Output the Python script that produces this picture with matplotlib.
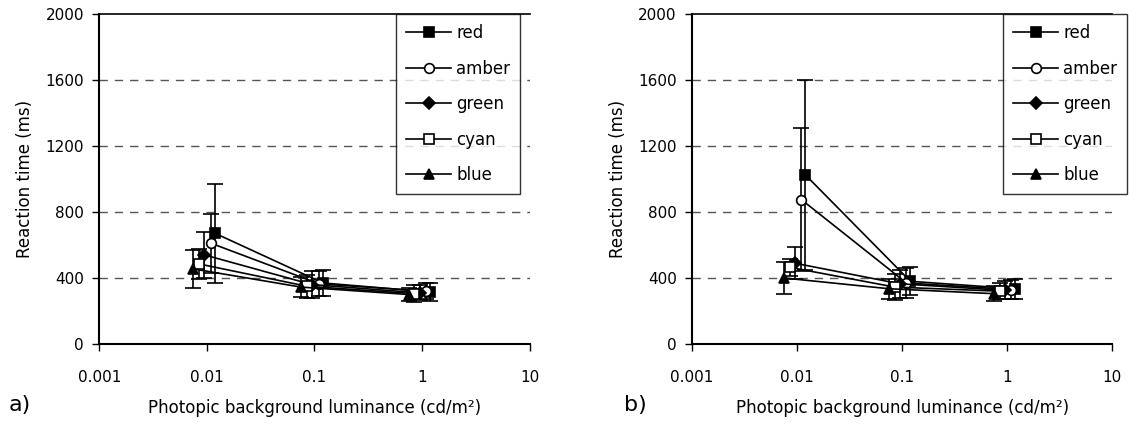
import numpy as np
from matplotlib import pyplot as plt
from matplotlib.lines import Line2D

series = ['red', 'amber', 'green', 'cyan', 'blue']
markers = ['s', 'o', 'D', 's', '^']
fills = ['black', 'white', 'black', 'white', 'black']
luminance = [0.01, 0.1, 1]
offsets = [1.2, 1.1, 0.95, 0.85, 0.75]

# panel a
rt_a = {
    'red':   [670, 370, 315],
    'amber': [610, 365, 320],
    'green': [540, 360, 310],
    'cyan':  [485, 350, 305],
    'blue':  [455, 345, 300],
}
err_a = {
    'red':   [300, 80, 55],
    'amber': [180, 75, 50],
    'green': [140, 80, 45],
    'cyan':  [90, 70, 50],
    'blue':  [115, 60, 40],
}
# panel b
rt_b = {
    'red':   [1025, 380, 335],
    'amber': [875, 370, 330],
    'green': [490, 365, 325],
    'cyan':  [465, 345, 320],
    'blue':  [400, 335, 305],
}
err_b = {
    'red':   [575, 85, 60],
    'amber': [435, 90, 55],
    'green': [95, 85, 55],
    'cyan':  [50, 80, 50],
    'blue':  [95, 60, 45],
}

plt.rcParams['font.family'] = 'DejaVu Sans'
fig = plt.figure(figsize=(11.29, 4.26), dpi=100)
ax_a = fig.add_axes([0.088, 0.1925, 0.381, 0.7745])
ax_b = fig.add_axes([0.613, 0.1925, 0.372, 0.7745])


def panel(ax, rt, err, legend_anchor, letter, letter_x):
    handles = []
    for name, m, fc, off in zip(series, markers, fills, offsets):
        x = np.array(luminance) * off
        ms = 6 if m == 'D' else 7
        ax.errorbar(x, rt[name], yerr=err[name], color='black', lw=1.2,
                    marker=m, ms=ms, mfc=fc, mec='black', mew=1.2,
                    capsize=6, elinewidth=1.2, capthick=1.2)
        handles.append(Line2D([], [], color='black', lw=1.2, marker=m,
                              ms=ms, mfc=fc, mec='black', mew=1.2,
                              label=name))
    ax.set_xscale('log')
    ax.set_xlim(0.001, 10)
    ax.set_ylim(0, 2000)
    ax.set_xticks([0.001, 0.01, 0.1, 1, 10])
    ax.set_xticklabels(['0.001', '0.01', '0.1', '1', '10'])
    ax.minorticks_off()
    ax.set_yticks([0, 400, 800, 1200, 1600, 2000])
    for v in [400, 800, 1200, 1600]:
        ax.axhline(v, color='#555555', lw=1, ls=(0, (6, 5)), zorder=0)
    ax.spines['right'].set_visible(False)
    ax.spines['top'].set_linewidth(1.2)
    ax.spines['left'].set_linewidth(1.5)
    ax.spines['bottom'].set_linewidth(1.5)
    ax.tick_params(labelsize=11, length=5, width=1, pad=6)
    ax.tick_params(axis='x', pad=14)
    ax.set_ylabel('Reaction time (ms)', fontsize=12, labelpad=8)
    ax.set_xlabel('Photopic background luminance (cd/m²)', fontsize=12,
                  labelpad=10)
    leg = ax.legend(handles=handles, loc='upper right',
                    bbox_to_anchor=legend_anchor,
                    bbox_transform=fig.transFigure, fontsize=12,
                    frameon=True, fancybox=False, edgecolor='black',
                    handlelength=2.7, labelspacing=1.05, borderpad=0.6,
                    handletextpad=0.3, borderaxespad=0)
    leg.get_frame().set_linewidth(1)
    fig.text(letter_x, 0.035, letter, fontsize=16)


panel(ax_a, rt_a, err_a, (0.461, 0.967), 'a)', 0.008)
panel(ax_b, rt_b, err_b, (0.9985, 0.967), 'b)', 0.553)

plt.savefig('out.png', dpi=100)
